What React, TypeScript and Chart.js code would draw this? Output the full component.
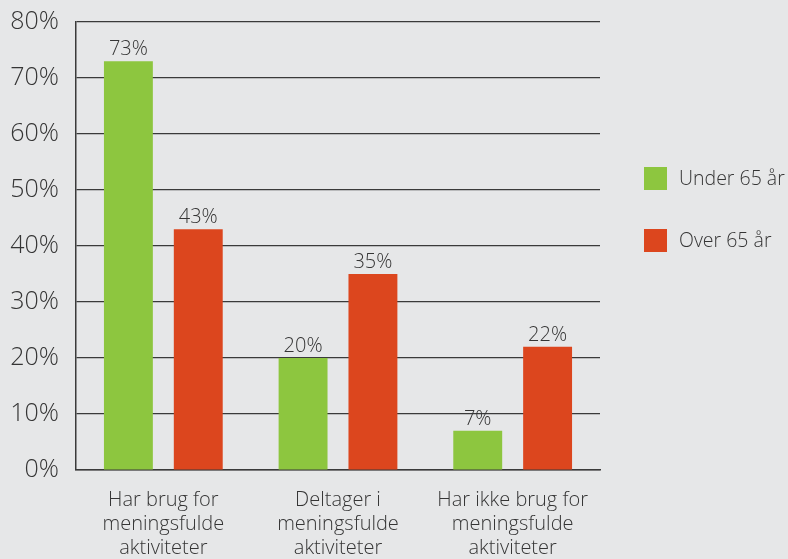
import React, { useEffect, useRef } from "react";
import { Chart, registerables } from "chart.js";

Chart.register(...registerables);

const categories: string[][] = [
  ["Har brug for", "meningsfulde", "aktiviteter"],
  ["Deltager i", "meningsfulde", "aktiviteter"],
  ["Har ikke brug for", "meningsfulde", "aktiviteter"],
];
const seriesNames = ["Under 65 år", "Over 65 år"];
const under65 = [73, 20, 7];
const over65 = [43, 35, 22];
const yTicks = [0, 10, 20, 30, 40, 50, 60, 70, 80];

const GREEN = "#8dc63f";
const RED = "#dc461e";
const TEXT = "#353535";
const FONT = "'Open Sans', 'DejaVu Sans', sans-serif";

const valueLabels = {
  id: "valueLabels",
  afterDatasetsDraw(chart: any) {
    const ctx = chart.ctx;
    ctx.save();
    ctx.fillStyle = TEXT;
    ctx.font = `300 20px ${FONT}`;
    ctx.textAlign = "center";
    ctx.textBaseline = "alphabetic";
    chart.data.datasets.forEach((ds: any, i: number) => {
      const meta = chart.getDatasetMeta(i);
      meta.data.forEach((bar: any, j: number) => {
        ctx.fillText(ds.data[j] + "%", bar.x, bar.y - 6);
      });
    });
    ctx.restore();
  },
};

const sideLegend = {
  id: "sideLegend",
  afterDraw(chart: any) {
    const ctx = chart.ctx;
    ctx.save();
    ctx.font = `300 19.5px ${FONT}`;
    ctx.textBaseline = "middle";
    ctx.textAlign = "left";
    chart.data.datasets.forEach((ds: any, i: number) => {
      const x = chart.chartArea.right + 44;
      const y = 167 + i * 62;
      ctx.fillStyle = ds.backgroundColor;
      ctx.fillRect(x, y, 23, 23);
      ctx.fillStyle = TEXT;
      ctx.fillText(ds.label, x + 35, y + 12);
    });
    ctx.restore();
  },
};

export default function App() {
  const ref = useRef<HTMLCanvasElement | null>(null);
  useEffect(() => {
    document.body.style.margin = "0";
    document.body.style.background = "#e6e7e8";
    const chart = new Chart(ref.current as HTMLCanvasElement, {
      type: "bar",
      data: {
        labels: categories,
        datasets: [
          { label: seriesNames[0], data: under65, backgroundColor: GREEN },
          { label: seriesNames[1], data: over65, backgroundColor: RED },
        ],
      },
      options: {
        animation: false,
        responsive: false,
        maintainAspectRatio: false,
        layout: { padding: { top: 22, right: 188, left: 0, bottom: 0 } },
        datasets: {
          bar: { categoryPercentage: 0.8, barPercentage: 0.7 },
        },
        plugins: { legend: { display: false }, tooltip: { enabled: false } },
        scales: {
          x: {
            afterFit(scale: any) {
              scale.height = 89;
              scale.paddingLeft = 0;
              scale.paddingRight = 0;
            },
            grid: { display: false, drawTicks: false },
            border: { display: true, color: "#3a3a3a", width: 1.5 },
            ticks: {
              color: TEXT,
              padding: 18,
              font: { family: FONT, size: 20, weight: "300", lineHeight: 1.2 },
              maxRotation: 0,
              autoSkip: false,
            },
          },
          y: {
            min: 0,
            max: 80,
            afterFit(scale: any) {
              scale.width = 76;
              scale.paddingTop = 0;
              scale.paddingBottom = 0;
            },
            afterBuildTicks(scale: any) {
              scale.ticks = yTicks.map((v) => ({ value: v }));
            },
            grid: { color: "#3a3a3a", lineWidth: 1.2, drawTicks: false },
            border: { display: true, color: "#3a3a3a", width: 1.5 },
            ticks: {
              color: TEXT,
              padding: 17,
              font: { family: FONT, size: 25, weight: "300" },
              callback: (v: any) => v + "%",
            },
          },
        },
      },
      plugins: [valueLabels, sideLegend],
    });
    return () => chart.destroy();
  }, []);
  return (
    <div style={{ width: 788, height: 559, background: "#e6e7e8" }}>
      <canvas ref={ref} width={788} height={559} style={{ display: "block" }} />
    </div>
  );
}
